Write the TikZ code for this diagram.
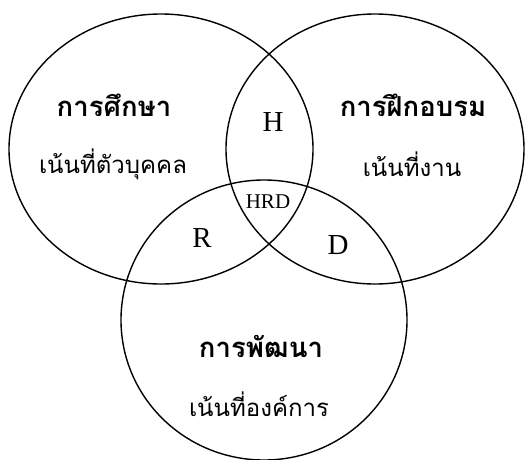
\documentclass[tikz,border=0pt]{standalone}
\usepackage{fontspec}
\setmainfont{Liberation Serif}
\newfontfamily\thaifont[Script=Thai]{Loma}
\begin{document}
\begin{tikzpicture}[x=1pt,y=-1pt,
  ring/.style={draw=black,line width=1.4pt},
  head/.style={font=\thaifont\bfseries\fontsize{27.5}{32}\selectfont},
  sub/.style={font=\thaifont\fontsize{24}{28}\selectfont},
  letter/.style={font=\fontsize{29}{32}\selectfont},
  small/.style={font=\fontsize{21}{24}\selectfont}]
\useasboundingbox (0,0) rectangle (528,459);
\draw[ring] (161,149) ellipse [x radius=152, y radius=135];
\draw[ring] (375,149) ellipse [x radius=149, y radius=135];
\draw[ring] (264,320) ellipse [x radius=143, y radius=140];
\node[head] (edu) at (114,105) {การศึกษา};
\node[sub] (edus) at (113,164) {เน้นที่ตัวบุคคล};
\node[head] (trn) at (413,105) {การฝึกอบรม};
\node[sub] (trns) at (412,164) {เน้นที่งาน};
\node[head] (dev) at (261,346) {การพัฒนา};
\node[sub] (devs) at (259,404) {เน้นที่องค์การ};
\node[letter] (h) at (273,122) {H};
\node[small] (hrd) at (268,202) {HRD};
\node[letter] (r) at (202,238) {R};
\node[letter] (d) at (338,245) {D};
\end{tikzpicture}
\end{document}
